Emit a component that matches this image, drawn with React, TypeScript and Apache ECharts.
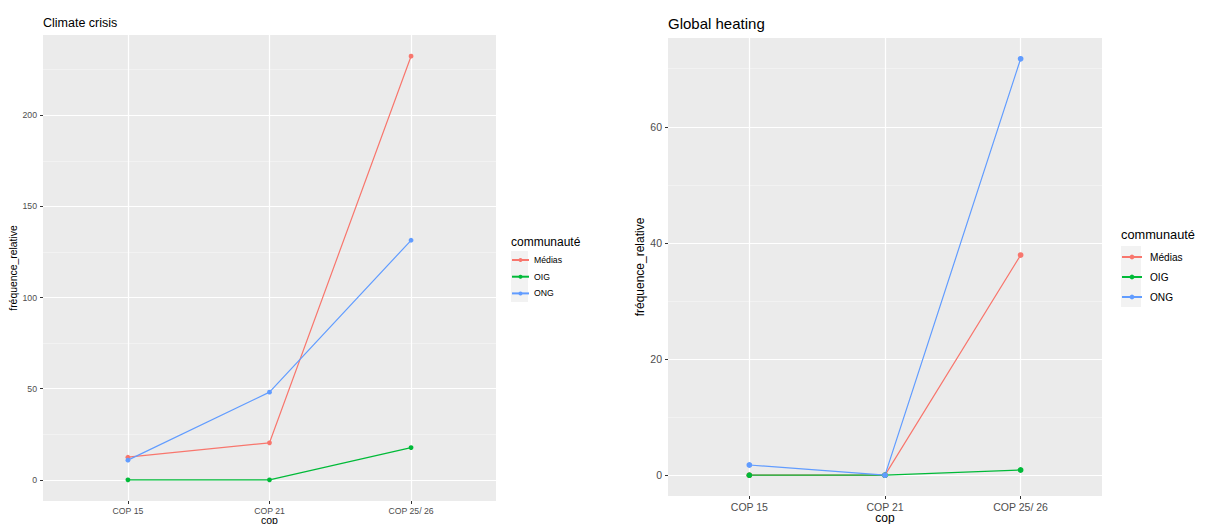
import React, { useEffect, useRef } from "react";
import * as echarts from "echarts";

const categories = ["COP 15", "COP 21", "COP 25/ 26"];
const groups = ["Médias", "OIG", "ONG"];
const colors = ["#F8766D", "#00BA38", "#619CFF"];

const crisisMedias = [12.4, 20.3, 232.4];
const crisisOIG = [0, 0, 17.7];
const crisisONG = [10.8, 48.1, 131.4];

const heatingMedias = [0, 0, 37.9];
const heatingOIG = [0, 0, 0.9];
const heatingONG = [1.75, 0, 71.7];

const crisisTicks = [0, 50, 100, 150, 200];
const crisisMinor = [25, 75, 125, 175, 225];
const heatingTicks = [0, 20, 40, 60];
const heatingMinor = [10, 30, 50, 70];

const xPositions = [1, 2, 3];

const FONT = "'Liberation Sans', Arial, Helvetica, sans-serif";

function yRange(series: number[][]) {
  const all = series.flat();
  const lo = Math.min(...all);
  const hi = Math.max(...all);
  const pad = (hi - lo) * 0.05;
  return { min: lo - pad, max: hi + pad };
}

function xAxisFor(gridIndex: number, fontSize: number, margin: number, nameSize: number, nameGap: number) {
  return {
    type: "value",
    gridIndex,
    min: 0.4,
    max: 3.6,
    name: "cop",
    nameLocation: "middle",
    nameGap,
    nameMoveOverlap: false,
    nameTextStyle: { color: "#000", fontSize: nameSize, fontFamily: FONT },
    axisLine: { show: false, onZero: false },
    axisTick: { show: true, length: 3, lineStyle: { color: "#333333", width: 1 }, customValues: xPositions },
    axisLabel: {
      show: true,
      margin,
      color: "#4D4D4D",
      fontSize,
      fontFamily: FONT,
      customValues: xPositions,
      formatter: (v: number) => categories[Math.round(v) - 1] ?? "",
    },
    splitLine: { show: true, lineStyle: { color: "#FFFFFF", width: 1.2 } },
  };
}

function yAxisFor(
  gridIndex: number,
  range: { min: number; max: number },
  ticks: number[],
  fontSize: number,
  nameSize: number,
  nameGap: number
) {
  return {
    type: "value",
    gridIndex,
    min: range.min,
    max: range.max,
    name: "fréquence_relative",
    nameLocation: "middle",
    nameGap,
    nameTextStyle: { color: "#000", fontSize: nameSize, fontFamily: FONT },
    axisLine: { show: false, onZero: false },
    axisTick: { show: true, length: 3, lineStyle: { color: "#333333", width: 1 }, customValues: ticks },
    axisLabel: { show: true, margin: 6, color: "#4D4D4D", fontSize, fontFamily: FONT, customValues: ticks },
    splitLine: { show: true, lineStyle: { color: "#FFFFFF", width: 1.2 } },
  };
}

function minorYAxisFor(gridIndex: number, range: { min: number; max: number }, minor: number[]) {
  return {
    type: "value",
    gridIndex,
    min: range.min,
    max: range.max,
    axisLine: { show: false, onZero: false },
    axisTick: { show: false, customValues: minor },
    axisLabel: { show: false, customValues: minor },
    splitLine: { show: true, lineStyle: { color: "#F7F7F7", width: 0.6 } },
  };
}

function lineSeries(name: string, values: number[], color: string, xAxisIndex: number, yAxisIndex: number, size: number) {
  return {
    type: "line",
    name,
    xAxisIndex,
    yAxisIndex,
    data: values.map((v, i) => [xPositions[i], v]),
    symbol: "circle",
    symbolSize: size,
    showSymbol: true,
    itemStyle: { color },
    lineStyle: { color, width: 1.2 },
    emphasis: { disabled: true },
  };
}

export default function App() {
  const ref = useRef<HTMLDivElement>(null);

  useEffect(() => {
    if (!ref.current) return;
    const chart = echarts.init(ref.current, undefined, { renderer: "svg" });

    const crisisRange = yRange([crisisMedias, crisisOIG, crisisONG]);
    const heatingRange = yRange([heatingMedias, heatingOIG, heatingONG]);

    const crisisData = [crisisMedias, crisisOIG, crisisONG];
    const heatingData = [heatingMedias, heatingOIG, heatingONG];

    const option: any = {
      animation: false,
      backgroundColor: "#FFFFFF",
      textStyle: { fontFamily: FONT },
      title: [
        {
          text: "Climate crisis",
          left: 43,
          top: 16,
          padding: 0,
          textStyle: { color: "#000", fontSize: 12.5, fontWeight: "normal", fontFamily: FONT },
        },
        {
          text: "Global heating",
          left: 668,
          top: 16,
          padding: 0,
          textStyle: { color: "#000", fontSize: 15, fontWeight: "normal", fontFamily: FONT },
        },
        {
          text: "communauté",
          left: 511,
          top: 236,
          padding: 0,
          textStyle: { color: "#000", fontSize: 12, fontWeight: "normal", fontFamily: FONT },
        },
        {
          text: "communauté",
          left: 1121,
          top: 228,
          padding: 0,
          textStyle: { color: "#000", fontSize: 12.8, fontWeight: "normal", fontFamily: FONT },
        },
      ],
      graphic: [
        { type: "rect", left: 511, top: 251, shape: { width: 17, height: 51 }, style: { fill: "#F2F2F2" }, z: -1 },
        { type: "rect", left: 1121, top: 246, shape: { width: 20, height: 61 }, style: { fill: "#F2F2F2" }, z: -1 },
      ],
      legend: [
        {
          data: groups,
          orient: "vertical",
          left: 511,
          top: 255,
          padding: 0,
          itemWidth: 17,
          itemHeight: 5,
          itemGap: 6.7,
          selectedMode: false,
          textStyle: { color: "#000", fontSize: 8.7, lineHeight: 10, fontFamily: FONT },
        },
        {
          data: groups,
          orient: "vertical",
          left: 1121,
          top: 251,
          padding: 0,
          itemWidth: 20,
          itemHeight: 6,
          itemGap: 8,
          selectedMode: false,
          textStyle: { color: "#000", fontSize: 10.1, lineHeight: 12, fontFamily: FONT, padding: [0, 0, 0, 3] },
        },
      ],
      grid: [
        {
          left: 43, top: 35, width: 453, height: 466, show: true, backgroundColor: "#EBEBEB", borderWidth: 0,
          containLabel: false, outerBoundsMode: "none",
        },
        {
          left: 668, top: 38, width: 434, height: 458, show: true, backgroundColor: "#EBEBEB", borderWidth: 0,
          containLabel: false, outerBoundsMode: "none",
        },
      ],
      xAxis: [xAxisFor(0, 8.7, 5, 10.5, 13), xAxisFor(1, 10.5, 5, 12, 16)],
      yAxis: [
        yAxisFor(0, crisisRange, crisisTicks, 8.7, 10.4, 22.5),
        minorYAxisFor(0, crisisRange, crisisMinor),
        yAxisFor(1, heatingRange, heatingTicks, 10.5, 12, 20.5),
        minorYAxisFor(1, heatingRange, heatingMinor),
      ],
      series: [
        ...groups.map((g, i) => lineSeries(g, crisisData[i], colors[i], 0, 0, 4.8)),
        ...groups.map((g, i) => lineSeries(g, heatingData[i], colors[i], 1, 2, 5.8)),
      ],
    };

    chart.setOption(option);
    return () => chart.dispose();
  }, []);

  return (
    <div
      ref={ref}
      style={{ position: "absolute", left: 0, top: 0, width: 1205, height: 524 }}
    />
  );
}
